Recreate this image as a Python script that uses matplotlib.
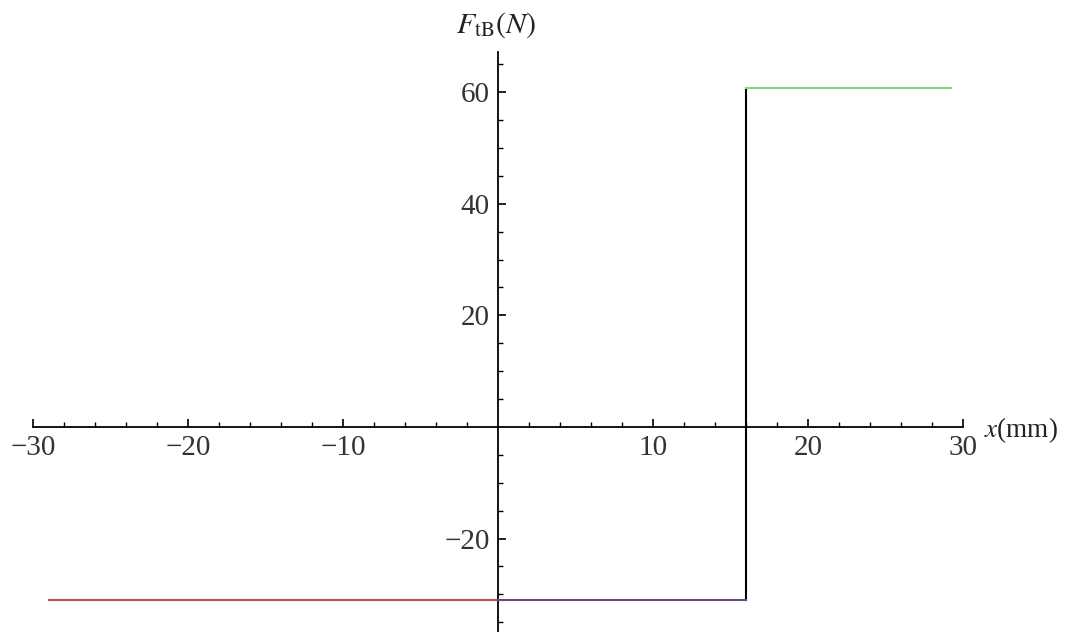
import matplotlib
matplotlib.use("Agg")
import matplotlib.pyplot as plt
from matplotlib.ticker import FixedLocator

# Data (piecewise constant force)
seg_x_starts = [-29.0, 0.0, 16.0]
seg_x_ends = [0.0, 16.0, 29.2]
seg_values = [-31.0, -31.0, 60.8]
seg_colors = ["#b5504c", "#6b4a7e", "#86d886"]
jump_x = 16.0
xticks = [-30, -20, -10, 10, 20, 30]
yticks = [-20, 20, 40, 60]

plt.rcParams['font.family'] = ['Liberation Serif', 'DejaVu Serif']
plt.rcParams['mathtext.fontset'] = 'stix'

fig = plt.figure(figsize=(10.65, 6.32), dpi=100)
ax = fig.add_axes([0, 0, 1, 1])
ax.set_xlim(-32.13, 36.58)
ax.set_ylim(-36.74, 76.5)

# vertical jump
ax.plot([jump_x, jump_x], [seg_values[1], seg_values[2]], color="black", lw=1.5, zorder=3)
for xs, xe, v, c in zip(seg_x_starts, seg_x_ends, seg_values, seg_colors):
    ax.plot([xs, xe], [v, v], color=c, lw=1.5, zorder=4)

for s in ['top', 'right']:
    ax.spines[s].set_visible(False)
ax.spines['left'].set_position(('data', 0))
ax.spines['bottom'].set_position(('data', 0))
ax.spines['left'].set_bounds(-36.74, 67.2)
ax.spines['bottom'].set_bounds(-30, 30)
ax.spines['left'].set_linewidth(1.3)
ax.spines['bottom'].set_linewidth(1.3)

ax.xaxis.set_major_locator(FixedLocator(xticks))
ax.xaxis.set_minor_locator(FixedLocator([v for v in range(-30, 31, 2) if v % 10 != 0]))
ax.yaxis.set_major_locator(FixedLocator(yticks))
ax.yaxis.set_minor_locator(FixedLocator([v for v in range(-35, 66, 5) if v % 20 != 0]))
ax.set_xticklabels([f"\u2212{abs(v)}" if v < 0 else str(v) for v in xticks])
ax.set_yticklabels([f"\u2212{abs(v)}" if v < 0 else str(v) for v in yticks])

ax.tick_params(axis='both', which='major', direction='in', length=6, width=1.2,
               labelsize=21, colors='black', labelcolor='#333333')
ax.tick_params(axis='both', which='minor', direction='in', length=3.5, width=1.0)
ax.tick_params(axis='x', which='major', pad=6)
ax.tick_params(axis='y', which='major', pad=6)

ax.text(984, 632 - 430, r"$x$(mm)", transform=None, fontsize=19.5, ha='left', va='center',
        color='#222222')
ax.text(456, 632 - 25, r"$F_{\mathrm{tB}}(N)$", transform=None, fontsize=21.5, ha='left',
        va='center', color='#222222')

fig.savefig("out.png", dpi=100)
